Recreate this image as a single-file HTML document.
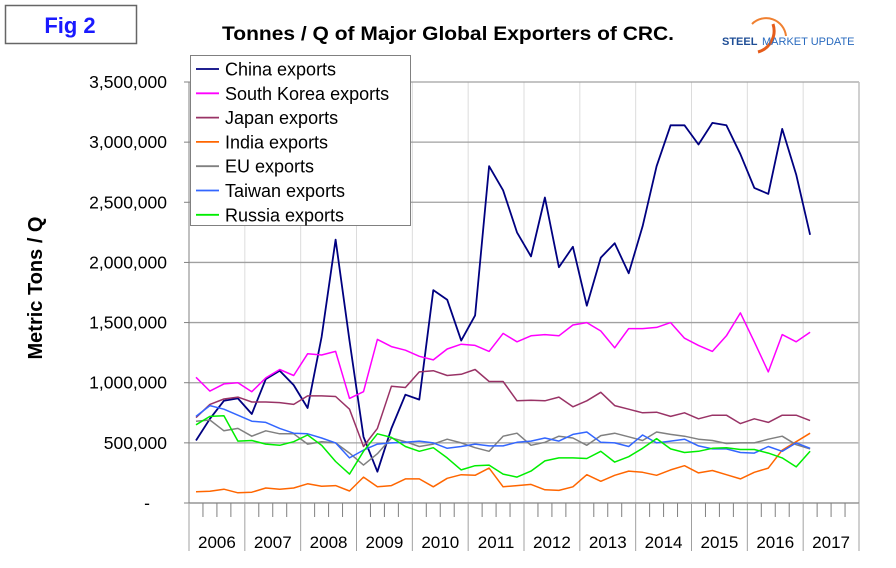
<!DOCTYPE html>
<html><head><meta charset="utf-8">
<style>
html,body{margin:0;padding:0;background:#fff;}
svg{display:block;font-family:"Liberation Sans",Arial,sans-serif;}
</style></head>
<body>
<svg id="s" width="896" height="568" viewBox="0 0 896 568" xmlns="http://www.w3.org/2000/svg">
<rect x="0" y="0" width="896" height="568" fill="#fff"/>
<rect x="5.5" y="5.5" width="131" height="38" fill="#fff" stroke="#666" stroke-width="1.5"/>
<text x="70" y="33" font-size="22" font-weight="bold" fill="#1a1aff" text-anchor="middle">Fig 2</text>
<text x="448" y="40" font-size="19" font-weight="bold" fill="#000" text-anchor="middle" textLength="452" lengthAdjust="spacingAndGlyphs">Tonnes / Q of Major Global Exporters of CRC.</text>
<path d="M758 52 A22 22 0 0 0 773 24" fill="none" stroke="#e65c1a" stroke-width="3"/>
<path d="M752 24 A20 20 0 0 1 786 36" fill="none" stroke="#f08030" stroke-width="2"/>
<text x="722" y="45" font-size="11" font-weight="bold" fill="#1f4e96">STEEL</text>
<text x="762" y="45" font-size="11" fill="#2a6bbf">MARKET UPDATE</text>
<g id="grid"></g>
<g id="series"></g>
<g id="legend"></g>
<text transform="translate(42,288) rotate(-90)" font-size="20" font-weight="bold" text-anchor="middle">Metric Tons / Q</text>
</svg>
<script>
const NS="http://www.w3.org/2000/svg";
function el(p,t,a,txt){const e=document.createElementNS(NS,t);for(const k in a)e.setAttribute(k,a[k]);if(txt)e.textContent=txt;p.appendChild(e);return e;}
const g=document.getElementById('grid'),S=document.getElementById('series'),L=document.getElementById('legend');
const X0=189,X1=859,Y0=503,Ytop=82;const pxPerM=(Y0-Ytop)/3.5;
const qw=(X1-X0)/48;
for(let y=1;y<12;y++){const x=X0+y*4*qw;el(g,'line',{x1:x,y1:Ytop,x2:x,y2:Y0,stroke:'#dcdcdc','stroke-width':1});}
const labels=['-','500,000','1,000,000','1,500,000','2,000,000','2,500,000','3,000,000','3,500,000'];
for(let i=0;i<=7;i++){const y=Y0-i*0.5*pxPerM;
 if(i>0)el(g,'line',{x1:X0,y1:y,x2:X1,y2:y,stroke:'#a0a0a0','stroke-width':1.3});
 el(g,'line',{x1:184,y1:y,x2:X0,y2:y,stroke:'#808080','stroke-width':1});
 el(g,'text',{x:i==0?150:167,y:y+6,'font-size':17.5,'text-anchor':'end',fill:'#000'},labels[i]);}
el(g,'line',{x1:X1,y1:Ytop,x2:X1,y2:Y0,stroke:'#c0c0c0','stroke-width':1.5});
el(g,'line',{x1:X0,y1:Ytop,x2:X0,y2:Y0,stroke:'#808080','stroke-width':1});
el(g,'line',{x1:X0,y1:Y0,x2:X1,y2:Y0,stroke:'#808080','stroke-width':1.3});
for(let q=0;q<=48;q++){const x=X0+q*qw;
 if(q%4==0)el(g,'line',{x1:x,y1:Y0,x2:x,y2:551,stroke:'#a0a0a0','stroke-width':1});
 else el(g,'line',{x1:x,y1:Y0,x2:x,y2:517,stroke:'#808080','stroke-width':1});}
for(let y=0;y<12;y++){el(g,'text',{x:X0+(y*4+2)*qw,y:548,'font-size':17,'text-anchor':'middle'},String(2006+y));}
const data={
'#000080':[520,700,850,870,740,1030,1100,980,790,1380,2190,1350,550,260,620,900,860,1770,1690,1350,1560,2800,2600,2250,2050,2540,1960,2130,1640,2040,2160,1910,2300,2800,3140,3140,2980,3160,3140,2900,2620,2570,3110,2730,2230],
'#ff00ff':[1045,930,990,1000,925,1040,1110,1060,1240,1230,1260,870,925,1360,1300,1270,1220,1190,1280,1320,1310,1260,1410,1340,1390,1400,1390,1480,1500,1430,1290,1450,1450,1460,1500,1370,1310,1260,1390,1580,1340,1090,1400,1340,1420],
'#993366':[710,820,865,880,840,840,835,820,890,890,885,780,470,620,970,960,1090,1100,1060,1070,1110,1010,1010,850,855,850,880,800,850,920,810,780,750,755,720,750,700,730,730,660,700,670,730,730,685],
'#ff6600':[94,97,115,85,90,125,115,125,160,140,145,100,215,135,145,200,200,135,205,235,230,290,135,145,155,110,105,135,235,180,230,265,255,230,275,310,250,270,235,200,255,290,440,510,580],
'#808080':[680,690,600,620,555,600,575,575,490,510,500,415,315,410,540,510,470,490,530,500,460,430,555,580,480,505,555,540,480,560,580,550,520,590,570,555,530,520,495,500,500,530,555,485,450],
'#3366ff':[720,810,780,730,680,670,620,580,575,540,500,375,440,490,500,505,515,500,455,470,490,475,475,505,515,540,515,570,590,505,500,470,565,500,515,530,475,450,450,420,415,470,430,500,455],
'#00ee00':[650,720,725,515,520,490,480,510,565,480,345,240,430,575,545,470,430,460,375,275,310,315,240,215,265,350,375,375,370,430,340,385,455,535,450,420,430,455,460,445,445,415,375,300,430]};
for(const c in data){const pts=data[c].map((v,i)=>(X0+qw/2+i*qw).toFixed(1)+','+(Y0-v/1000*pxPerM).toFixed(1)).join(' ');
 el(S,'polyline',{points:pts,fill:'none',stroke:c,'stroke-width':c=='#000080'?1.8:1.5,'stroke-linejoin':'round'});}
el(L,'rect',{x:190.5,y:55.5,width:220,height:170,fill:'#fff',stroke:'#808080','stroke-width':1});
const names=['China exports','South Korea exports','Japan exports','India exports','EU exports','Taiwan exports','Russia exports'];
const cols=Object.keys(data);
names.forEach((n,i)=>{const y=69+i*24.3;el(L,'line',{x1:196,y1:y,x2:219,y2:y,stroke:cols[i],'stroke-width':1.8});
 el(L,'text',{x:225,y:y+6.5,'font-size':18},n);});
</script>
</body></html>
